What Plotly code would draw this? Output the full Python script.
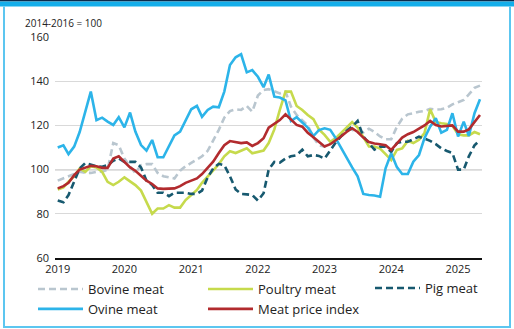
import plotly.graph_objects as go
import pandas as pd

months = pd.date_range("2019-01-01", "2025-05-01", freq="MS")

bovine = [95, 96, 97, 98, 99, 98.5, 98.5, 99, 99, 100, 112, 111,
          105, 101.5, 98.5, 102, 102.5, 102.5, 98.5, 97, 96.5, 96, 99.5, 101.5,
          103, 104.5, 106, 108.5, 113, 118, 123.5, 126.5, 127.3, 127, 128.8, 126.2,
          133.5, 136, 136.4, 135.5, 134.5, 135.3, 128.5, 124.7, 122.4, 120, 114.5, 111,
          110.4, 112, 114.5, 116, 118, 118, 117, 116.8, 118.5, 117, 115, 113.7,
          113.7, 119.4, 123, 125, 125.5, 126.2, 126.5, 127.5, 127.2, 127.3, 128, 129.5,
          130.5, 131.5, 134, 137, 138]

poultry = [91, 92, 94.5, 97, 100.5, 99, 101.5, 101, 99, 94.5, 93, 94.5,
           96.5, 94.5, 93, 90.5, 85.5, 80, 82.4, 82.4, 83.9, 82.8, 82.8, 86.2,
           88.5, 90.8, 94, 97, 100, 102.5, 106, 108.3, 107.5, 108.5, 109.6, 107.4,
           108.1, 108.6, 112, 118.2, 127, 135.3, 135.3, 128.8, 127, 124.7, 122.8, 118.2,
           115.7, 112.6, 114, 116.5, 119, 121.5, 119, 115, 110.5, 110.4, 109.5, 107,
           104.3, 108.9, 109.6, 113, 112, 113.5, 116.5, 127.3, 121.5, 121, 120.6, 119.8,
           116, 115.5, 115.5, 117, 116]

pig = [86, 85.2, 88.5, 94.5, 100.5, 103, 102.1, 101.5, 101.3, 102, 104, 105,
       103.5, 103.5, 103.5, 101, 95, 93, 89.5, 89.5, 88, 89.5, 89.5, 89.5,
       89, 89, 90.5, 96.5, 100.5, 102.6, 102, 97, 91, 89, 88.8, 88.5,
       86, 89.3, 100, 103.5, 103.2, 105, 106, 106.5, 109, 106, 106.6, 106.2,
       105, 109, 112, 115, 117.5, 119.5, 122, 115, 112, 109, 110.4, 110.4,
       108, 112, 112.6, 112.6, 113.7, 114.9, 114, 113, 111.5, 109.6, 108.4, 107.5,
       100, 100, 106, 111, 113.4]

ovine = [110, 111, 107, 110.4, 117, 126.7, 135.3, 122.4, 123.5, 121.7, 120.2, 123.7,
         119.1, 125.8, 117.2, 111.1, 108.6, 113.4, 105.6, 105.6, 110.4, 115.5, 117.2, 122.4,
         127.3, 128.8, 123.9, 127, 128.5, 128.2, 135.3, 147.3, 150.8, 152.2, 144, 145,
         142, 137.3, 143, 133, 132.6, 131.3, 122, 123.7, 121.5, 119, 115.2, 117.9,
         118.7, 118, 114.5, 110, 105, 101, 97, 89, 88.5, 88.3, 87.7, 100.6,
         107.4, 101.1, 98, 98, 103.6, 106.6, 114.2, 119.4, 123.2, 116.7, 118, 125.5,
         115, 121.7, 115.2, 125.5, 131.8]

meat_index = [91.5, 92.5, 94, 97.5, 100, 101, 101.7, 101.5, 100.8, 100.8, 105, 106,
              103.5, 101, 99.5, 97, 95, 93.5, 91.5, 91.3, 91.3, 91.5, 92.5, 94,
              95, 96, 98, 101, 103.6, 107.5, 111, 112.9, 112.3, 112, 112.3, 110.7,
              112, 114.2, 119, 120.6, 122.4, 125, 122.8, 120.2, 119.4, 116.7, 114.6, 112.6,
              110.5, 111.5, 113, 115, 117, 118.7, 117, 114.5, 112.5, 111.8, 111.5, 111,
              108.9, 112, 114.5, 116, 117, 118.5, 120, 122, 120.2, 119.5, 119.8, 120,
              117.2, 117.2, 118.2, 121.7, 124.7]

# (name, values, colour, dash, legend column)
series = [
    ("Bovine meat", bovine, "#b9c6cf", "7px,4px", "legend"),
    ("Poultry meat", poultry, "#c6da4c", "solid", "legend2"),
    ("Pig meat", pig, "#17596f", "7px,4px", "legend3"),
    ("Ovine meat", ovine, "#2cb4e9", "solid", "legend"),
    ("Meat price index", meat_index, "#b22b2e", "solid", "legend2"),
]

W, H = 514, 329
ML, MR, MT, MB = 55, 32, 37, 71
PW, PH = W - ML - MR, H - MT - MB

def px(x):
    return (x - ML) / PW

def py(y):
    return (H - MB - y) / PH

fig = go.Figure()
for name, vals, color, dash, leg in series:
    fig.add_trace(go.Scatter(
        x=months, y=vals, name=name, mode="lines", legend=leg,
        line=dict(color=color, width=2.6, dash=dash),
    ))

FONT = "Open Sans, Noto Sans, sans-serif"

shapes = [
    dict(type="line", xref="paper", yref="y", x0=0, x1=1, y0=100, y1=100,
         line=dict(color="#8a8a8a", width=1.2), layer="below"),
    dict(type="rect", xref="paper", yref="paper", x0=px(0), x1=px(W), y0=py(0), y1=py(1.6),
         fillcolor="#0b2b4c", line=dict(width=0)),
    dict(type="rect", xref="paper", yref="paper", x0=px(0), x1=px(W), y0=py(1.6), y1=py(6.5),
         fillcolor="#14aeea", line=dict(width=0)),
    dict(type="rect", xref="paper", yref="paper", x0=px(3), x1=px(5), y0=py(6.5), y1=py(328),
         fillcolor="#5cc6f0", line=dict(width=0)),
    dict(type="rect", xref="paper", yref="paper", x0=px(509), x1=px(511), y0=py(6.5), y1=py(328),
         fillcolor="#5cc6f0", line=dict(width=0)),
    dict(type="rect", xref="paper", yref="paper", x0=px(3), x1=px(511), y0=py(326), y1=py(328),
         fillcolor="#5cc6f0", line=dict(width=0)),
]

def legend_at(x_px, y_px):
    return dict(orientation="v", x=px(x_px), y=py(y_px), xanchor="left", yanchor="top",
                itemwidth=45, font=dict(size=13, color="#222"), tracegroupgap=0,
                bgcolor="rgba(0,0,0,0)", borderwidth=0)

fig.update_layout(
    width=W, height=H,
    margin=dict(l=ML, r=MR, t=MT, b=MB, autoexpand=False),
    paper_bgcolor="white", plot_bgcolor="white",
    font=dict(family=FONT, color="#222", size=11),
    showlegend=True,
    legend=legend_at(33, 274),
    legend2=legend_at(203, 274),
    legend3=legend_at(370, 273),
    xaxis=dict(type="date", range=["2018-12-17", "2025-05-12"],
               dtick="M12", tick0="2019-01-01", tickformat="%Y",
               showgrid=False, showline=True, linecolor="#111", linewidth=2,
               ticks="", tickfont=dict(size=11, color="#222"), zeroline=False),
    yaxis=dict(range=[60, 160], tickvals=[60, 80, 100, 120, 140, 160],
               showgrid=True, gridcolor="#d9d9d9", gridwidth=1,
               zeroline=False, showline=False, ticks="", ticklabelstandoff=5,
               tickfont=dict(size=11, color="#222")),
    shapes=shapes,
    annotations=[dict(text="2014-2016 = 100", xref="paper", yref="paper",
                      x=px(23), y=py(22.5), xanchor="left", yanchor="middle",
                      showarrow=False, font=dict(size=10, color="#222"))],
)

fig.write_html("out.html")
